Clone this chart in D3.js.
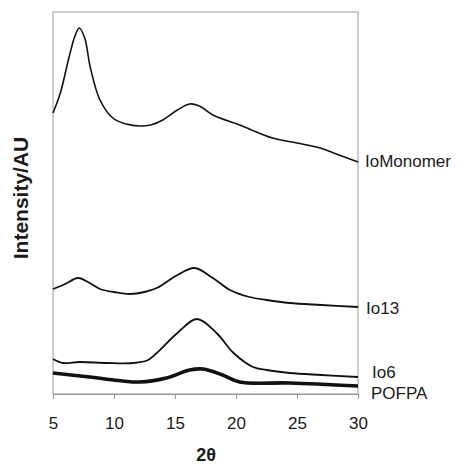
<!DOCTYPE html>
<html>
<head>
<meta charset="utf-8">
<script src="https://cdn.jsdelivr.net/npm/d3@7"></script>
<style>
  body { margin: 0; background: #fff; }
  text { font-family: "Liberation Sans", Arial, sans-serif; fill: #1a1a1a; }
</style>
</head>
<body>
<div id="chart"></div>
<script>
// 2theta positions and intensities (arbitrary units, stacked as plotted)
const xTicks = [5, 10, 15, 20, 25, 30];

const monomerX = [5, 5.6, 6.3, 6.8, 7.15, 7.6, 8.05, 8.85, 9.9, 11, 12.1, 13, 14, 15.2, 16.2, 17, 18.1, 20.3, 23, 25, 26.9, 28, 30];
const monomerY = [281, 301, 336, 358, 366, 356, 327, 294, 276, 270, 268, 269, 274, 284, 290, 288, 279, 269, 256, 251, 246, 241, 232];

const io13X = [5, 6, 7.05, 8, 8.85, 10, 11.3, 12.5, 13.5, 15.2, 16.6, 18.1, 19.5, 21.1, 22.5, 24.4, 27, 30];
const io13Y = [105, 110, 116, 111, 105, 102, 100, 102, 106, 119, 126, 116, 104, 97, 94, 91, 89, 87];

const io6X = [5, 5.8, 7.2, 9.4, 11.6, 12.8, 13.5, 15.2, 16.8, 18.4, 19.8, 21.4, 22.5, 24.4, 27, 30];
const io6Y = [35, 31, 32, 31, 31, 34, 41, 61, 75, 61, 41, 27, 24, 21, 19, 17];

const pofpaX = [5, 8, 12.1, 14.3, 16.2, 17.3, 18.9, 20.3, 24.4, 30];
const pofpaY = [21, 17, 12, 16, 24, 25, 19, 12, 11, 8];

const seriesNames = ["IoMonomer", "Io13", "Io6", "POFPA"];

const series = [
  {name: seriesNames[0], xs: monomerX, ys: monomerY, w: 1.6, dy: -1, dx: 7},
  {name: seriesNames[1], xs: io13X, ys: io13Y, w: 1.8, dy: 1, dx: 8},
  {name: seriesNames[2], xs: io6X, ys: io6Y, w: 1.8, dy: -5, dx: 14},
  {name: seriesNames[3], xs: pofpaX, ys: pofpaY, w: 3.6, dy: 7, dx: 13}
];

const W = 461, H = 467;
const margin = {top: 12, right: 103, bottom: 73, left: 53};
const width = W - margin.left - margin.right,
      height = H - margin.top - margin.bottom;

const svg = d3.select("#chart").append("svg")
    .attr("width", W)
    .attr("height", H);

const g = svg.append("g")
    .attr("transform", `translate(${margin.left},${margin.top})`);

const xScale = d3.scaleLinear().domain([5, 30]).range([0, width]);
const yScale = d3.scaleLinear().domain([0, 382]).range([height, 0]);

// plot frame
g.append("rect")
    .attr("width", width)
    .attr("height", height)
    .attr("fill", "none")
    .attr("stroke", "#9a9a9a")
    .attr("stroke-width", 1);

// x axis
const xAxis = d3.axisBottom(xScale).tickValues(xTicks).tickSize(5).tickPadding(18);
const xg = g.append("g")
    .attr("transform", `translate(0,${height})`)
    .call(xAxis);
xg.select(".domain").attr("stroke", "#9a9a9a");
xg.selectAll(".tick line").attr("stroke", "#9a9a9a");
xg.selectAll(".tick text")
    .attr("font-size", 17)
    .attr("fill", "#1a1a1a")
    .attr("font-family", "Liberation Sans, Arial, sans-serif");

// lines
const line = d3.line()
    .x(d => xScale(d[0]))
    .y(d => yScale(d[1]))
    .curve(d3.curveCatmullRom.alpha(0.5));

series.forEach(s => {
  const pts = s.xs.map((x, i) => [x, s.ys[i]]);
  g.append("path")
      .datum(pts)
      .attr("fill", "none")
      .attr("stroke", "#111")
      .attr("stroke-width", s.w)
      .attr("stroke-linejoin", "round")
      .attr("d", line);

  const last = pts[pts.length - 1];
  g.append("text")
      .attr("x", width + s.dx)
      .attr("y", yScale(last[1]) + s.dy)
      .attr("dy", "0.35em")
      .attr("font-size", 17)
      .text(s.name);
});

// axis titles
svg.append("text")
    .attr("x", 206)
    .attr("y", 461)
    .attr("text-anchor", "middle")
    .attr("font-size", 18)
    .attr("font-weight", "bold")
    .text("2θ");

svg.append("text")
    .attr("transform", `translate(28,198) rotate(-90)`)
    .attr("text-anchor", "middle")
    .attr("font-size", 21)
    .attr("font-weight", "bold")
    .text("Intensity/AU");
</script>
</body>
</html>
